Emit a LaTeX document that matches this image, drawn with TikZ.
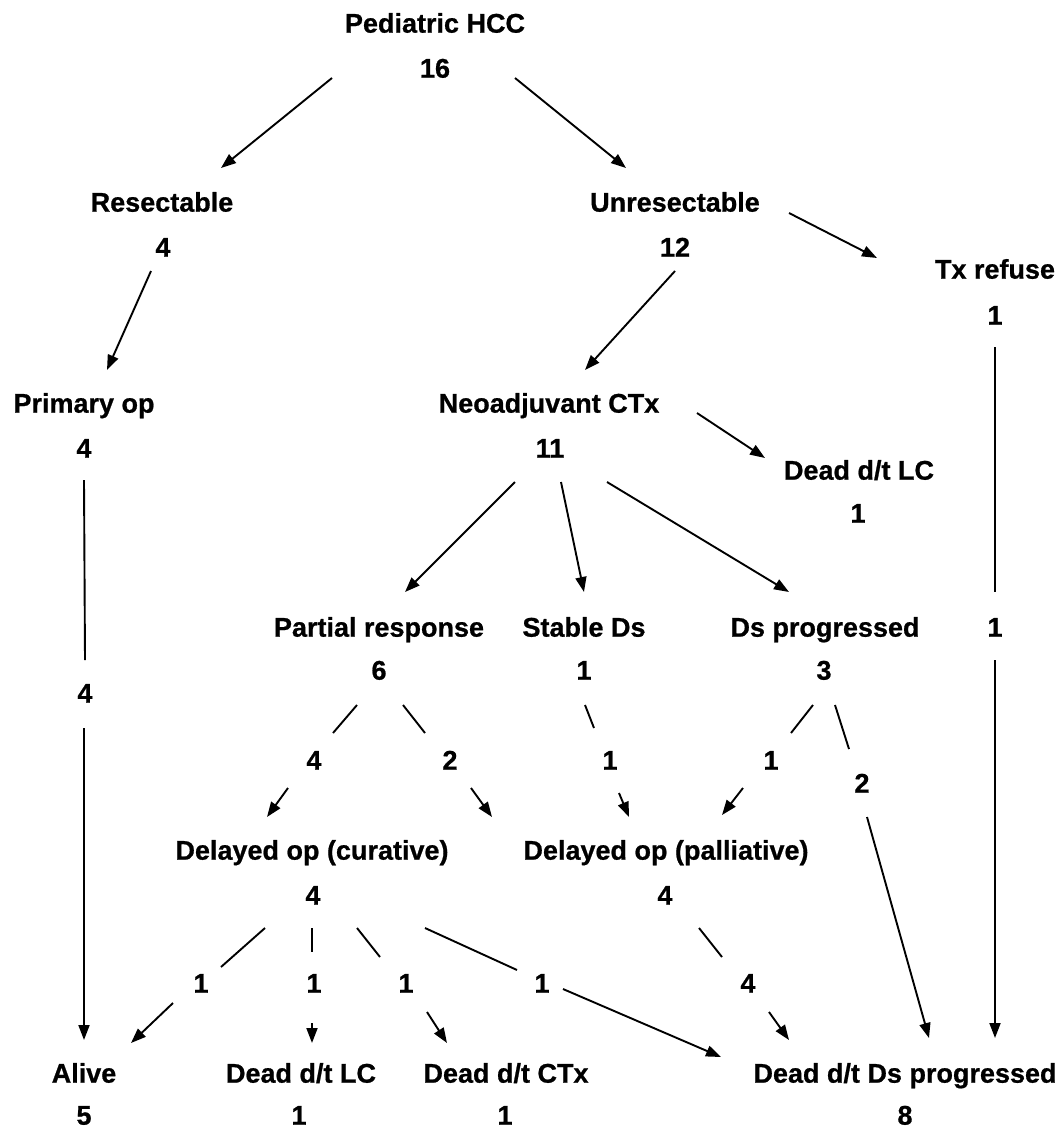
\documentclass[tikz,border=0pt]{standalone}
\usepackage{fontspec}
\setmainfont{Liberation Sans}[BoldFeatures={FakeBold=0.8}]
\usetikzlibrary{arrows.meta}

\begin{document}
\begin{tikzpicture}[x=1pt,y=-1pt,->,>={Triangle[length=15pt,width=11pt]},line width=1.9pt,
  txt/.style={inner sep=0pt,text height=19.3pt,text depth=0pt,font=\fontsize{27}{32}\selectfont\bfseries}]
  \useasboundingbox (0,0) rectangle (1061,1130);
  % groups: label and count
  \node (hcc)   [txt] at (435,23)   {Pediatric HCC};
  \node (hccn)  [txt] at (435,68)   {16};
  \node (res)   [txt] at (162,202)  {Resectable};
  \node (resn)  [txt] at (163,247)  {4};
  \node (unres) [txt] at (675,202)  {Unresectable};
  \node (unresn)[txt] at (675,247)  {12};
  \node (txr)   [txt] at (995,269)  {Tx refuse};
  \node (txrn)  [txt] at (995,315)  {1};
  \node (prim)  [txt] at (84,403)   {Primary op};
  \node (primn) [txt] at (84,448)   {4};
  \node (neo)   [txt] at (549,403)  {Neoadjuvant CTx};
  \node (neon)  [txt] at (550,448)  {11};
  \node (lcA)   [txt] at (859,470)  {Dead d/t LC};
  \node (lcAn)  [txt] at (858,513)  {1};
  \node (pr)    [txt] at (379,627)  {Partial response};
  \node (prn)   [txt] at (379,670)  {6};
  \node (sd)    [txt] at (584,627)  {Stable Ds};
  \node (sdn)   [txt] at (584,670)  {1};
  \node (dp)    [txt] at (825,627)  {Ds progressed};
  \node (dpn)   [txt] at (824,670)  {3};
  \node (cur)   [txt] at (312,850)  {Delayed op (curative)};
  \node (curn)  [txt] at (313,895)  {4};
  \node (pal)   [txt] at (666,850)  {Delayed op (palliative)};
  \node (paln)  [txt] at (665,895)  {4};
  \node (alive) [txt] at (84,1073)  {Alive};
  \node (aliven)[txt] at (84,1115)  {5};
  \node (lcB)   [txt] at (301,1073) {Dead d/t LC};
  \node (lcBn)  [txt] at (299,1115) {1};
  \node (ctx)   [txt] at (506,1073) {Dead d/t CTx};
  \node (ctxn)  [txt] at (505,1115) {1};
  \node (ddp)   [txt] at (905,1073) {Dead d/t Ds progressed};
  \node (ddpn)  [txt] at (905,1115) {8};
  % counts sitting on the split edges
  \node (eTx)   [txt] at (995,627)  {1};
  \node (ePrim) [txt] at (85,693)   {4};
  \node (ePrCur)[txt] at (314,760)  {4};
  \node (ePrPal)[txt] at (450,760)  {2};
  \node (eSdPal)[txt] at (610,760)  {1};
  \node (eDpPal)[txt] at (771,760)  {1};
  \node (eDpDdp)[txt] at (862,783)  {2};
  \node (eCurAl)[txt] at (201,983)  {1};
  \node (eCurLC)[txt] at (314,983)  {1};
  \node (eCurCT)[txt] at (406,983)  {1};
  \node (eCurDd)[txt] at (542,983)  {1};
  \node (ePalDd)[txt] at (748,983)  {4};

  \draw ([shift={(-103,10)}]hccn.center) -- ([shift={(59,-34)}]res.center);
  \draw ([shift={(80,10)}]hccn.center) -- ([shift={(-49,-34)}]unres.center);
  \draw ([shift={(114,11)}]unres.center) -- ([shift={(-118,-11)}]txr.center);
  \draw ([shift={(-12,24)}]resn.center) -- ([shift={(23,-33)}]prim.center);
  \draw ([shift={(0,24)}]unresn.center) -- ([shift={(36,-33)}]neo.center);
  \draw ([shift={(148,10)}]neo.center) -- ([shift={(-94,-12)}]lcA.center);
  \draw ([shift={(-35,34)}]neon.center) -- ([shift={(26,-35)}]pr.center);
  \draw ([shift={(11,34)}]neon.center) -- ([shift={(0,-35)}]sd.center);
  \draw ([shift={(57,34)}]neon.center) -- ([shift={(-36,-35)}]dp.center);

  \draw[-] ([shift={(0,32)}]txrn.center) -- ([shift={(0,-35)}]eTx.center);
  \draw ([shift={(0,33)}]eTx.center) -- ([shift={(90,-35)}]ddp.center);
  \draw[-] ([shift={(0,32)}]primn.center) -- ([shift={(0,-33)}]ePrim.center);
  \draw ([shift={(-1,35)}]ePrim.center) -- ([shift={(0,-33)}]alive.center);

  \draw[-] ([shift={(-22,35)}]prn.center) -- ([shift={(19,-27)}]ePrCur.center);
  \draw ([shift={(-26,28)}]ePrCur.center) -- ([shift={(-45,-33)}]cur.center);
  \draw[-] ([shift={(24,35)}]prn.center) -- ([shift={(-25,-27)}]ePrPal.center);
  \draw ([shift={(21,28)}]ePrPal.center) -- ([shift={(-174,-33)}]pal.center);
  \draw[-] ([shift={(1,35)}]sdn.center) -- ([shift={(-16,-32)}]eSdPal.center);
  \draw ([shift={(9,33)}]eSdPal.center) -- ([shift={(-37,-33)}]pal.center);
  \draw[-] ([shift={(-11,35)}]dpn.center) -- ([shift={(20,-27)}]eDpPal.center);
  \draw ([shift={(-28,28)}]eDpPal.center) -- ([shift={(56,-35)}]pal.center);
  \draw[-] ([shift={(11,35)}]dpn.center) -- ([shift={(-13,-34)}]eDpDdp.center);
  \draw ([shift={(5,34)}]eDpDdp.center) -- ([shift={(24,-35)}]ddp.center);

  \draw[-] ([shift={(-48,33)}]curn.center) -- ([shift={(20,-16)}]eCurAl.center);
  \draw ([shift={(-28,20)}]eCurAl.center) -- ([shift={(47,-30)}]alive.center);
  \draw[-] ([shift={(-1,33)}]curn.center) -- ([shift={(-2,-31)}]eCurLC.center);
  \draw ([shift={(-2,40)}]eCurLC.center) -- ([shift={(11,-30)}]lcB.center);
  \draw[-] ([shift={(44,33)}]curn.center) -- ([shift={(-26,-26)}]eCurCT.center);
  \draw ([shift={(21,29)}]eCurCT.center) -- ([shift={(-59,-30)}]ctx.center);
  \draw[-] ([shift={(112,33)}]curn.center) -- ([shift={(-25,-13)}]eCurDd.center);
  \draw ([shift={(21,6)}]eCurDd.center) -- ([shift={(-184,-16)}]ddp.center);
  \draw[-] ([shift={(34,33)}]paln.center) -- ([shift={(-26,-26)}]ePalDd.center);
  \draw ([shift={(21,29)}]ePalDd.center) -- ([shift={(-116,-33)}]ddp.center);
\end{tikzpicture}
\end{document}
